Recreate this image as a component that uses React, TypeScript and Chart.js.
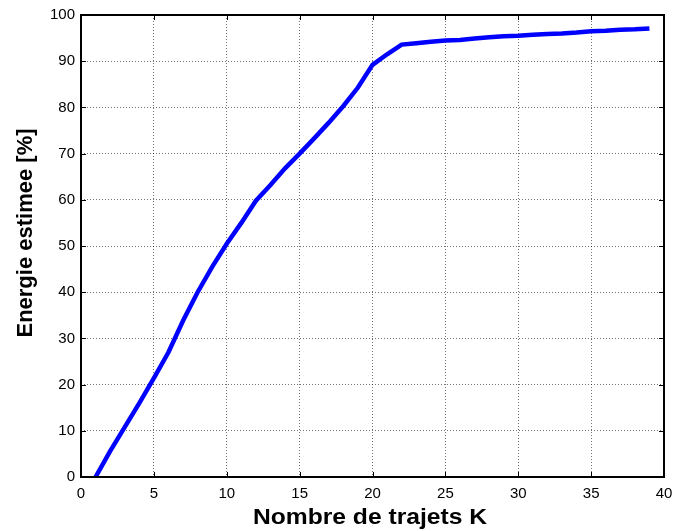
import React, { useEffect, useRef } from "react";
import { Chart, registerables } from "chart.js";

Chart.register(...registerables);

const kValues = [1, 2, 3, 4, 5, 6, 7, 8, 9, 10, 11, 12, 13, 14, 15, 16, 17, 18, 19, 20, 21, 22, 23, 24, 25, 26, 27, 28, 29, 30, 31, 32, 33, 34, 35, 36, 37, 38, 39];
const energyValues = [0, 5.6, 10.8, 16.0, 21.4, 27.0, 33.8, 40.0, 45.5, 50.5, 55.0, 59.8, 63.2, 66.8, 70.0, 73.3, 76.7, 80.3, 84.3, 89.2, 91.5, 93.6, 93.9, 94.2, 94.5, 94.6, 94.9, 95.2, 95.4, 95.5, 95.7, 95.9, 96.0, 96.2, 96.5, 96.6, 96.8, 96.9, 97.1];
const xTickValues = [0, 5, 10, 15, 20, 25, 30, 35, 40];
const yTickValues = [0, 10, 20, 30, 40, 50, 60, 70, 80, 90, 100];
const xTitle = "Nombre de trajets K";
const yTitle = "Energie estimee [%]";

const FONT = "'Liberation Sans', Arial, Helvetica, sans-serif";

const framePlugin = {
  id: "matlabFrame",
  afterDraw(chart: any) {
    const { ctx, chartArea } = chart;
    const { left, right, top, bottom } = chartArea;
    const xs = chart.scales.x;
    const ys = chart.scales.y;
    ctx.save();
    // inward ticks
    ctx.strokeStyle = "#000";
    ctx.lineWidth = 1;
    const tl = 5;
    ctx.beginPath();
    xTickValues.forEach((v) => {
      const px = Math.round(xs.getPixelForValue(v)) + 0.5;
      ctx.moveTo(px, bottom);
      ctx.lineTo(px, bottom - tl);
      ctx.moveTo(px, top);
      ctx.lineTo(px, top + tl);
    });
    yTickValues.forEach((v) => {
      const py = Math.round(ys.getPixelForValue(v)) + 0.5;
      ctx.moveTo(left, py);
      ctx.lineTo(left + tl, py);
      ctx.moveTo(right, py);
      ctx.lineTo(right - tl, py);
    });
    ctx.stroke();
    // box
    ctx.lineWidth = 2;
    ctx.strokeRect(Math.round(left), Math.round(top), Math.round(right) - Math.round(left), Math.round(bottom) - Math.round(top));
    // titles
    ctx.fillStyle = "#000";
    ctx.font = `bold 22px ${FONT}`;
    ctx.textAlign = "center";
    ctx.textBaseline = "alphabetic";
    ctx.save();
    ctx.translate((left + right) / 2 - 2.5, 524);
    ctx.scale(1.12, 1);
    ctx.fillText(xTitle, 0, 0);
    ctx.restore();
    ctx.save();
    ctx.translate(32, 233);
    ctx.rotate(-Math.PI / 2);
    ctx.fillText(yTitle, 0, 0);
    ctx.restore();
    ctx.restore();
  },
};

export default function App() {
  const canvasRef = useRef<HTMLCanvasElement | null>(null);

  useEffect(() => {
    if (!canvasRef.current) return;
    const chart = new Chart(canvasRef.current, {
      type: "line",
      data: {
        datasets: [
          {
            data: kValues.map((k, i) => ({ x: k, y: energyValues[i] })),
            borderColor: "#0000FF",
            borderWidth: 4.5,
            pointRadius: 0,
            tension: 0,
            fill: false,
          },
        ],
      },
      options: {
        animation: false,
        responsive: false,
        events: [],
        layout: { padding: { top: 15, right: 9, left: 0, bottom: 0 } },
        plugins: { legend: { display: false }, tooltip: { enabled: false } },
        scales: {
          x: {
            type: "linear",
            min: 0,
            max: 40,
            afterBuildTicks: (scale: any) => {
              scale.ticks = xTickValues.map((v) => ({ value: v }));
            },
            afterFit: (scale: any) => {
              scale.height = 54;
              scale.paddingLeft = 0;
              scale.paddingRight = 0;
            },
            grid: {
              color: "rgba(0,0,0,0.55)",
              lineWidth: 1,
              drawTicks: false,
            },
            border: { display: false, dash: [1, 2] },
            ticks: {
              padding: 8,
              color: "#000",
              font: { family: FONT, size: 15 },
              maxRotation: 0,
              autoSkip: false,
            },
          },
          y: {
            type: "linear",
            min: 0,
            max: 100,
            afterBuildTicks: (scale: any) => {
              scale.ticks = yTickValues.map((v) => ({ value: v }));
            },
            afterFit: (scale: any) => {
              scale.width = 81;
              scale.paddingTop = 0;
              scale.paddingBottom = 0;
            },
            grid: {
              color: "rgba(0,0,0,0.55)",
              lineWidth: 1,
              drawTicks: false,
            },
            border: { display: false, dash: [1, 2] },
            ticks: {
              padding: 6,
              color: "#000",
              font: { family: FONT, size: 15 },
              autoSkip: false,
            },
          },
        },
      },
      plugins: [framePlugin],
    });
    return () => chart.destroy();
  }, []);

  return (
    <div style={{ position: "absolute", left: 0, top: 0, width: 673, height: 531, background: "#fff" }}>
      <canvas ref={canvasRef} width={673} height={531} />
    </div>
  );
}
